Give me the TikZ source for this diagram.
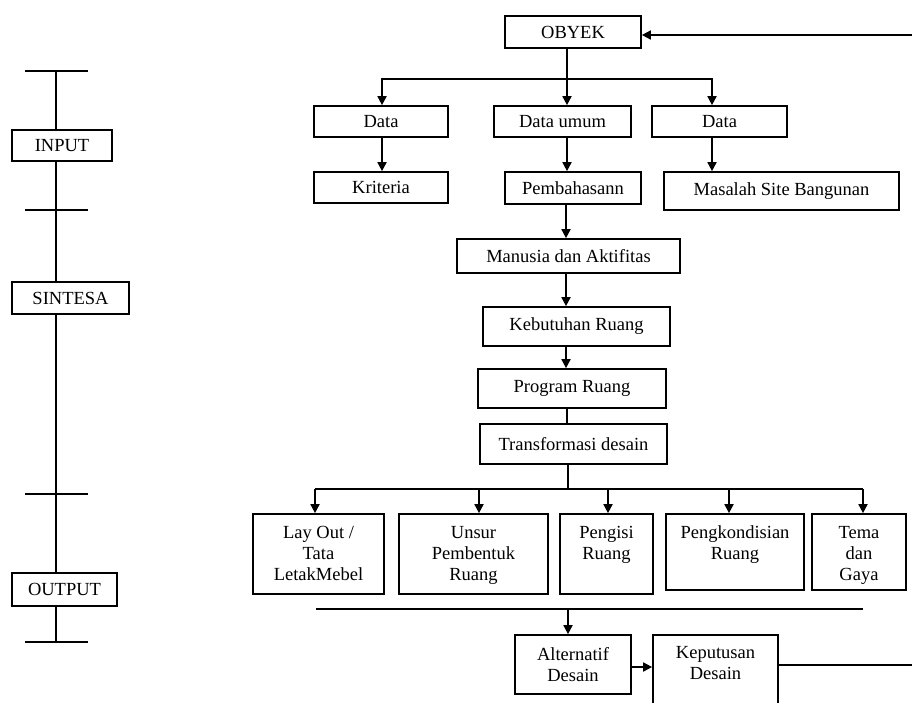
\documentclass[tikz,border=0pt]{standalone}
\usepackage{fontspec}
\setmainfont{Liberation Serif}
\usetikzlibrary{arrows.meta}
\begin{document}
\begin{tikzpicture}[x=1pt,y=-1pt,
  txt/.style={font=\fontsize{18.5}{21}\selectfont},
  box/.style={draw, line width=1.7pt, fill=white, inner sep=0pt, txt, align=center},
  conn/.style={line width=1.7pt},
  arr/.style={conn, -{Triangle[length=9pt,width=9pt]}},
  every label/.style={txt, inner sep=0pt, align=center, anchor=north}
]
\clip (0,0) rectangle (912,702);
\fill[white] (0,0) rectangle (912,702);

% ---------------- left time line ----------------
\coordinate (t1) at (56,71);
\coordinate (t2) at (56,210);
\coordinate (t3) at (56,494);
\coordinate (t4) at (56,642);
\node[box, minimum width=100pt, minimum height=31pt] (input) at (62,145.5) {INPUT};
\node[box, minimum width=117pt, minimum height=32pt] (sintesa) at (70.5,298) {SINTESA};
\node[box, minimum width=105pt, minimum height=33pt] (output) at (64.5,589.5) {OUTPUT};
\draw[conn] (t1) -- (t1 |- input.north);
\draw[conn] (t1 |- input.south) -- (t1 |- sintesa.north);
\draw[conn] (t1 |- sintesa.south) -- (t1 |- output.north);
\draw[conn] (t1 |- output.south) -- (t4);
\foreach \t in {t1,t2,t3,t4}
  \draw[conn] ([xshift=-31pt]\t) -- ([xshift=32pt]\t);

% ---------------- right flow chart ----------------
\node[box, minimum width=136pt, minimum height=32pt] (obyek) at (573,32) {OBYEK};
\node[box, minimum width=134pt, minimum height=31pt] (data1) at (381,121.5) {Data};
\node[box, minimum width=137pt, minimum height=31pt] (dataumum) at (562.5,121.5) {Data umum};
\node[box, minimum width=135pt, minimum height=31pt] (data3) at (719.5,121.5) {Data};
\node[box, minimum width=134pt, minimum height=31pt] (kriteria) at (381,187.5) {Kriteria};
\node[box, minimum width=136pt, minimum height=32pt] (pembahasan) at (573,188) {Pembahasann};
\node[box, minimum width=235pt, minimum height=38pt] (masalah) at (781.5,191) {Masalah Site Bangunan};
\node[box, minimum width=223pt, minimum height=34pt] (manusia) at (568.5,256) {Manusia dan Aktifitas};
\node[box, minimum width=187pt, minimum height=39pt] (kebutuhan) at (576.5,326.5) {Kebutuhan Ruang};
\node[box, minimum width=188pt, minimum height=39pt] (program) at (572,388.5) {Program Ruang};
\node[box, minimum width=187pt, minimum height=40pt] (transf) at (573.5,444) {Transformasi desain};

\node[box, minimum width=131pt, minimum height=80pt,
  label={[yshift=-13pt]north:{Lay Out /\\Tata\\LetakMebel}}] (layout) at (318.5,554) {};
\node[box, minimum width=149pt, minimum height=80pt,
  label={[yshift=-13pt]north:{Unsur\\Pembentuk\\Ruang}}] (unsur) at (473.5,554) {};
\node[box, minimum width=93pt, minimum height=80pt,
  label={[yshift=-13pt]north:{Pengisi\\Ruang}}] (pengisi) at (606.5,554) {};
\node[box, minimum width=138pt, minimum height=76pt,
  label={[yshift=-12pt]north:{Pengkondisian\\Ruang}}] (pengkond) at (735,552) {};
\node[box, minimum width=94pt, minimum height=76pt,
  label={[yshift=-13pt]north:{Tema\\dan\\Gaya}}] (tema) at (859,552) {};

\node[box, minimum width=116pt, minimum height=59pt] (alt) at (573,664.5) {Alternatif\\Desain};
\node[box, minimum width=125pt, minimum height=85pt,
  label={[yshift=-12pt]north:{Keputusan\\Desain}}] (kep) at (715.5,677.5) {};

% branch below OBYEK
\coordinate (b1) at (567,79);
\draw[conn] (b1 |- obyek.south) -- (b1);
\draw[arr] (b1) -| ([xshift=1pt]data1.north);
\draw[arr] (b1) -| ([xshift=-7.5pt]data3.north);
\draw[arr] (b1) -- (b1 |- dataumum.north);

\draw[arr] ([xshift=1pt]data1.south) -- ([xshift=1pt]data1.south |- kriteria.north);
\draw[arr] (b1 |- dataumum.south) -- (b1 |- pembahasan.north);
\draw[arr] ([xshift=-7.5pt]data3.south) -- ([xshift=-7.5pt]data3.south |- masalah.north);

\draw[arr] ([xshift=-1pt]b1 |- pembahasan.south) -- ([xshift=-1pt]b1 |- manusia.north);
\draw[arr] ([xshift=-1pt]b1 |- manusia.south) -- ([xshift=-1pt]b1 |- kebutuhan.north);
\draw[arr] ([xshift=-1pt]b1 |- kebutuhan.south) -- ([xshift=-1pt]b1 |- program.north);
\draw[conn] (b1 |- program.south) -- (b1 |- transf.north);

% branch below Transformasi
\coordinate (b2) at (568,489);
\coordinate (a1) at (315,489);
\coordinate (a2) at (479,489);
\coordinate (a3) at (608,489);
\coordinate (a4) at (729,489);
\coordinate (a5) at (863,489);
\draw[conn] (b2 |- transf.south) -- (b2);
\draw[conn] (a1) -- (a5);
\draw[arr] (a1) -- (a1 |- layout.north);
\draw[arr] (a2) -- (a2 |- unsur.north);
\draw[arr] (a3) -- (a3 |- pengisi.north);
\draw[arr] (a4) -- (a4 |- pengkond.north);
\draw[arr] (a5) -- (a5 |- tema.north);

% bar and decision
\coordinate (bl) at (316,609);
\coordinate (br) at (863,609);
\draw[line width=2.6pt] (bl) -- (br);
\draw[arr] (b2 |- bl) -- (b2 |- alt.north);
\draw[arr] ([yshift=-2.5pt]alt.east) -- ([yshift=-2.5pt]alt.east -| kep.west);

% feedback loop
\coordinate (fb) at (918,35);
\draw[arr] ([yshift=12.5pt]kep.east) -| (fb) -- (fb -| obyek.east);
\end{tikzpicture}
\end{document}
